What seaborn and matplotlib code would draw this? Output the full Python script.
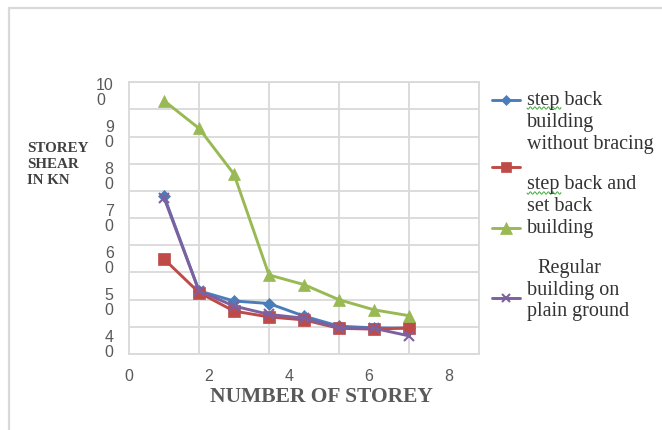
import numpy as np
import pandas as pd
import matplotlib
matplotlib.use("Agg")
import matplotlib.pyplot as plt
from matplotlib.lines import Line2D
from matplotlib.patches import Rectangle
import seaborn as sns

# ---- data -------------------------------------------------------------
storeys = [1, 2, 3, 4, 5, 6, 7, 8]
step_back_no_bracing = [75.0, 52.4, 50.0, 49.4, 46.4, 44.0, 43.6, 43.5]
step_back_set_back = [60.0, 52.0, 47.6, 46.2, 45.5, 43.5, 43.3, 43.6]
step_back_set_back_2 = [97.7, 91.1, 80.2, 56.2, 53.9, 50.3, 47.9, 46.5]
regular_plain = [74.6, 52.4, 48.8, 46.8, 45.9, 43.6, 43.5, 41.7]

series_names = ["blue", "red", "green", "purple"]
series_values = [step_back_no_bracing, step_back_set_back,
                 step_back_set_back_2, regular_plain]

y_tick_values = [40, 50, 60, 70, 80, 90, 100]
x_tick_labels = [0, 2, 4, 6, 8]

# ---- style ------------------------------------------------------------
sns.set_theme(style="white")
W, H = 662, 431
fig = plt.figure(figsize=(W / 100, H / 100), dpi=100)

def fx(x):
    return x / W

def fy(y):
    return 1 - y / H

GRID = "#d9d9d9"
TXT = "#595959"
colors = {"blue": "#4A7EBB", "red": "#BE4B48", "green": "#98B954", "purple": "#7D60A0"}
markers = {"blue": "D", "red": "s", "green": "^", "purple": "x"}
msizes = {"blue": 6, "red": 8.5, "green": 9, "purple": 7}

# outer chart border
fig.patches.append(Rectangle((fx(9), fy(440)), fx(700), fy(9) - fy(440),
                             transform=fig.transFigure, fill=False,
                             edgecolor=GRID, lw=1.6, zorder=0))

left, right, top, bottom = 129, 479, 83.3, 355
ax = fig.add_axes([fx(left), fy(bottom), fx(right - left), fy(top) - fy(bottom)])

ylo, yhi = 37.38, 102.07
ax.set_xlim(0, 10)
ax.set_ylim(ylo, yhi)

# gridlines (minor ticks) across the plot area
ax.set_xticks(np.arange(0, 10.01, 2), minor=True)
ax.set_yticks(np.linspace(ylo, yhi, 11), minor=True)
ax.grid(True, which="minor", color=GRID, lw=1.3)
ax.grid(False, which="major")
ax.tick_params(which="both", length=0)
for s in ax.spines.values():
    s.set_color(GRID)
    s.set_linewidth(1.3)

# tick labels
ax.set_yticks(y_tick_values)
ax.set_yticklabels([f"{v // 10}\n{v % 10}" for v in y_tick_values],
                   fontsize=11.5, color=TXT, family="Liberation Sans",
                   linespacing=0.95, multialignment="left")
ax.tick_params(axis="y", pad=11)
ax.set_xticks([v * 8 / 7 for v in x_tick_labels])
ax.set_xticklabels([str(v) for v in x_tick_labels], fontsize=11.5,
                   color=TXT, family="Liberation Sans")
ax.tick_params(axis="x", pad=10)

# series
df = pd.DataFrame({"storey": storeys * 4,
                   "value": sum(series_values, []),
                   "series": sum([[n] * len(storeys) for n in series_names], [])})
for name in series_names:
    sub = df[df["series"] == name]
    sns.lineplot(data=sub, x="storey", y="value", ax=ax, color=colors[name],
                 lw=2.1, marker=markers[name], markersize=msizes[name],
                 markeredgecolor=colors[name], markeredgewidth=1.5 if name == "purple" else 0.5,
                 legend=False, zorder=3)
ax.set_xlabel("")
ax.set_ylabel("")

# axis titles
fig.text(fx(27), fy(165), "STOREY\nSHEAR\nIN KN", fontsize=10.8, fontweight="bold",
         family="Liberation Serif", color="#404040", ha="left", va="center",
         linespacing=1.3)
fig.text(fx(321), fy(397), "NUMBER OF STOREY", fontsize=15.5, fontweight="bold",
         family="Liberation Serif", color=TXT, ha="center", va="center")

# legend
handle_y = {"blue": 101, "red": 168, "green": 229, "purple": 299}
for name in series_names:
    y = handle_y[name]
    fig.add_artist(Line2D([fx(492), fx(520)], [fy(y), fy(y)], color=colors[name], lw=2.1,
                          transform=fig.transFigure))
    fig.add_artist(Line2D([fx(506)], [fy(y)], color=colors[name], marker=markers[name],
                          markersize=msizes[name] * 0.9, markeredgewidth=1.5 if name == "purple" else 0.5,
                          markeredgecolor=colors[name], transform=fig.transFigure))

legend_lines = [("step back", 527, 101), ("building", 527, 122), ("without bracing", 527, 145),
                ("step back and", 527, 185), ("set back", 527, 207), ("building", 527, 229),
                ("Regular", 537, 268), ("building on", 527, 290), ("plain ground", 527, 312)]
for text, x, y in legend_lines:
    fig.text(fx(x), fy(y), text, fontsize=14.5, family="Liberation Serif",
             color="#333333", ha="left", va="center")

# wavy spell-check underline beneath "step"
for y0 in (109, 194):
    xs = np.linspace(527, 561, 60)
    ys = y0 + 1.2 * np.sin((xs - 527) * 2 * np.pi / 4.5)
    fig.add_artist(Line2D(fx(xs), fy(ys), color="#3caa3c", lw=0.7,
                          transform=fig.transFigure))

fig.savefig("out.png", dpi=100)
